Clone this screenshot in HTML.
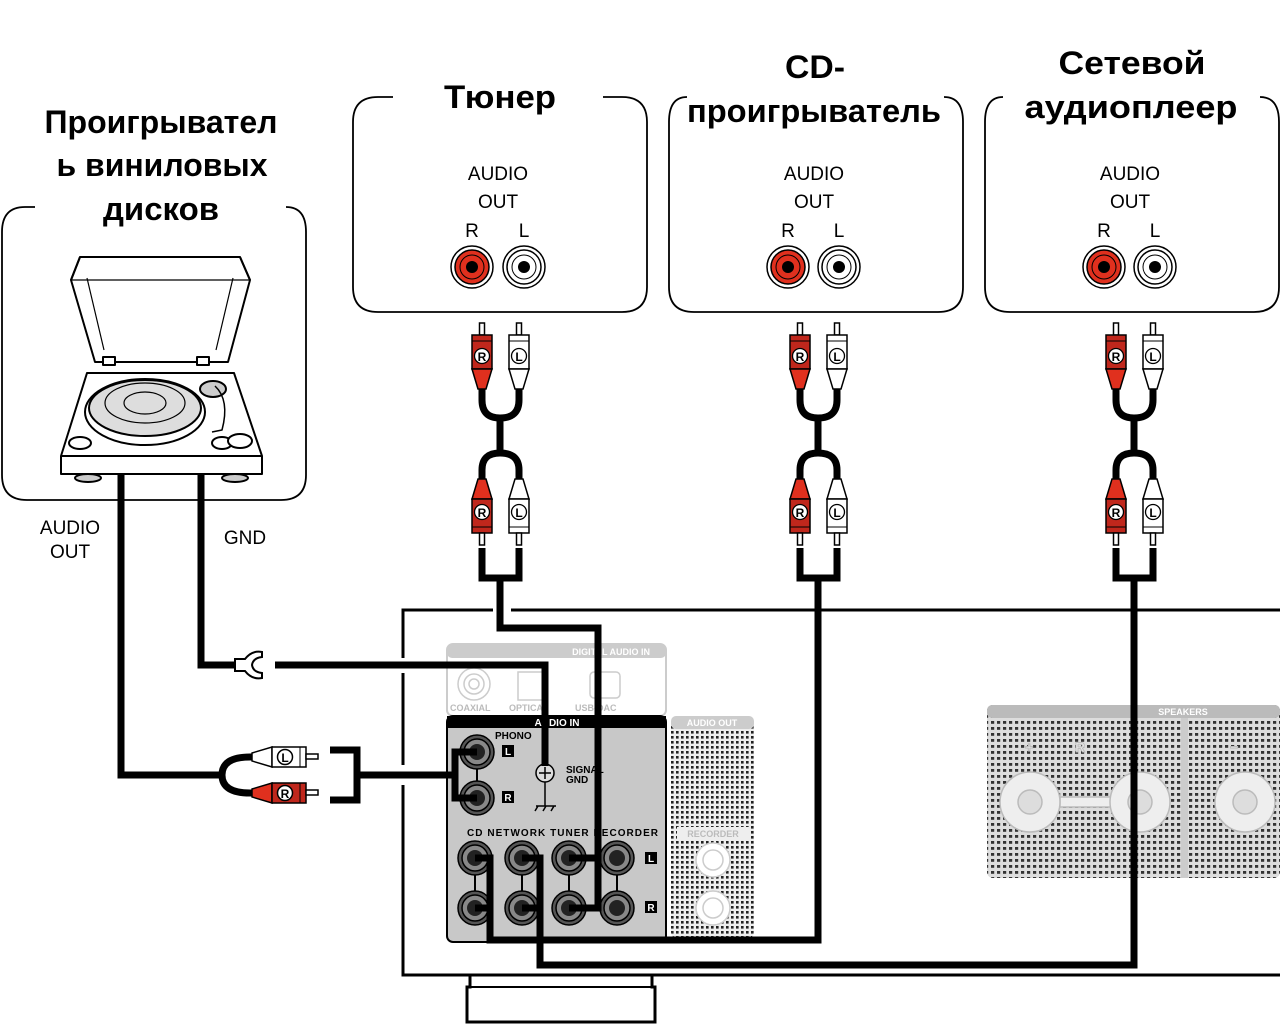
<!DOCTYPE html>
<html><head><meta charset="utf-8"><style>
html,body{margin:0;padding:0;background:#fff;}
svg{display:block;}
text{font-family:"Liberation Sans","DejaVu Sans",sans-serif;}
</style></head><body>
<svg width="1280" height="1033" viewBox="0 0 1280 1033" xmlns="http://www.w3.org/2000/svg">
<defs>
<pattern id="dots" width="5" height="5" patternUnits="userSpaceOnUse"><rect width="5" height="5" fill="#eee"/><rect x="1" y="1" width="2.6" height="2.6" fill="#222"/></pattern>
<pattern id="dots2" width="6" height="6" patternUnits="userSpaceOnUse"><rect width="6" height="6" fill="#ddd"/><rect x="1" y="1" width="3.2" height="2.8" fill="#333"/></pattern>
<g id="plugR">
 <rect x="-2.5" y="0" width="5" height="12" fill="#fff" stroke="#000" stroke-width="1.5"/>
 <rect x="-10" y="12" width="20" height="34" fill="#c0271c" stroke="#000" stroke-width="1.5"/>
 <line x1="-10" y1="18" x2="10" y2="18" stroke="#000" stroke-width="1"/>
 <path d="M-10 46 L-4 66 L4 66 L10 46Z" fill="#e0301e" stroke="#000" stroke-width="1.5"/>
 <circle cx="0" cy="33" r="7.5" fill="#fff" stroke="#000" stroke-width="1.3"/>
 <text x="0" y="38" font-size="12" font-weight="bold" text-anchor="middle">R</text>
</g>
<g id="plugL">
 <rect x="-2.5" y="0" width="5" height="12" fill="#fff" stroke="#000" stroke-width="1.5"/>
 <rect x="-10" y="12" width="20" height="34" fill="#fff" stroke="#000" stroke-width="1.5"/>
 <line x1="-10" y1="18" x2="10" y2="18" stroke="#000" stroke-width="1"/>
 <path d="M-10 46 L-4 66 L4 66 L10 46Z" fill="#fff" stroke="#000" stroke-width="1.5"/>
 <circle cx="0" cy="33" r="7.5" fill="#fff" stroke="#000" stroke-width="1.3"/>
 <text x="0" y="38" font-size="12" font-weight="bold" text-anchor="middle">L</text>
</g>
<g id="plugRd">
 <path d="M-4 479 L4 479 L10 499 L-10 499Z" fill="#e0301e" stroke="#000" stroke-width="1.5"/>
 <rect x="-10" y="499" width="20" height="34" fill="#c0271c" stroke="#000" stroke-width="1.5"/>
 <line x1="-10" y1="527" x2="10" y2="527" stroke="#000" stroke-width="1"/>
 <rect x="-2.5" y="533" width="5" height="12" fill="#fff" stroke="#000" stroke-width="1.5"/>
 <circle cx="0" cy="512" r="7.5" fill="#fff" stroke="#000" stroke-width="1.3"/>
 <text x="0" y="517" font-size="12" font-weight="bold" text-anchor="middle">R</text>
</g>
<g id="plugLd">
 <path d="M-4 479 L4 479 L10 499 L-10 499Z" fill="#fff" stroke="#000" stroke-width="1.5"/>
 <rect x="-10" y="499" width="20" height="34" fill="#fff" stroke="#000" stroke-width="1.5"/>
 <line x1="-10" y1="527" x2="10" y2="527" stroke="#000" stroke-width="1"/>
 <rect x="-2.5" y="533" width="5" height="12" fill="#fff" stroke="#000" stroke-width="1.5"/>
 <circle cx="0" cy="512" r="7.5" fill="#fff" stroke="#000" stroke-width="1.3"/>
 <text x="0" y="517" font-size="12" font-weight="bold" text-anchor="middle">L</text>
</g>
<g id="cable">
 <g fill="none" stroke="#000" stroke-width="7">
  <path d="M-18 388 V400 Q-18 418 0 418 Q19 418 19 400 V388"/>
  <path d="M0 418 V454"/>
  <path d="M-18 482 V470 Q-18 453 0 453 Q19 453 19 470 V482"/>
  <path d="M-18 548 V578 H19 V548"/>
 </g>
 <use href="#plugR" x="-18" y="323"/>
 <use href="#plugL" x="19" y="323"/>
 <use href="#plugRd" x="-18"/>
 <use href="#plugLd" x="19"/>
</g>
<g id="injack">
 <circle r="17" fill="#555" stroke="#000" stroke-width="1.5"/>
 <circle r="13" fill="#888" stroke="#000" stroke-width="1.5"/>
 <circle r="8" fill="#222"/>
</g>
</defs>

<!-- Titles -->
<g font-weight="bold" font-size="32" text-anchor="middle">
 <text x="161" y="133" textLength="233" lengthAdjust="spacingAndGlyphs">Проигрывател</text>
 <text x="162" y="176" textLength="211" lengthAdjust="spacingAndGlyphs">ь виниловых</text>
 <text x="161" y="220" textLength="116" lengthAdjust="spacingAndGlyphs">дисков</text>
 <text x="500" y="108" textLength="112" lengthAdjust="spacingAndGlyphs">Тюнер</text>
 <text x="815" y="78" textLength="60" lengthAdjust="spacingAndGlyphs">CD-</text>
 <text x="814" y="122" textLength="254" lengthAdjust="spacingAndGlyphs">проигрыватель</text>
 <text x="1132" y="74" textLength="147" lengthAdjust="spacingAndGlyphs">Сетевой</text>
 <text x="1131" y="118" textLength="213" lengthAdjust="spacingAndGlyphs">аудиоплеер</text>
</g>

<!-- Boxes -->
<g fill="none" stroke="#000" stroke-width="1.8">
 <path d="M35 207 H25 Q2 207 2 232 V475 Q2 500 27 500 H281 Q306 500 306 475 V232 Q306 207 286 207"/>
 <path d="M393 97 H378 Q353 97 353 122 V287 Q353 312 378 312 H622 Q647 312 647 287 V122 Q647 97 622 97 H603"/>
 <path d="M687 97 Q669 97 669 122 V287 Q669 312 694 312 H938 Q963 312 963 287 V122 Q963 97 944 97"/>
 <path d="M1003 97 Q985 97 985 122 V287 Q985 312 1010 312 H1254 Q1279 312 1279 287 V122 Q1279 97 1260 97"/>
</g>

<g font-size="19" text-anchor="middle">
 <text x="498" y="180">AUDIO</text><text x="498" y="208">OUT</text><text x="472" y="237">R</text><text x="524" y="237">L</text>
 <text x="814" y="180">AUDIO</text><text x="814" y="208">OUT</text><text x="788" y="237">R</text><text x="839" y="237">L</text>
 <text x="1130" y="180">AUDIO</text><text x="1130" y="208">OUT</text><text x="1104" y="237">R</text><text x="1155" y="237">L</text>
</g>
<g>
 <g transform="translate(472,267)"><circle r="21" fill="#fff" stroke="#000" stroke-width="1.5"/><circle r="17" fill="#e0301e" stroke="#000" stroke-width="1.5"/><circle r="12" fill="#e0301e" stroke="#000" stroke-width="1"/><circle r="6" fill="#000"/></g>
 <g transform="translate(524,267)"><circle r="21" fill="#fff" stroke="#000" stroke-width="1.5"/><circle r="17" fill="#fff" stroke="#000" stroke-width="1.5"/><circle r="12" fill="#fff" stroke="#000" stroke-width="1"/><circle r="6" fill="#000"/></g>
 <g transform="translate(788,267)"><circle r="21" fill="#fff" stroke="#000" stroke-width="1.5"/><circle r="17" fill="#e0301e" stroke="#000" stroke-width="1.5"/><circle r="12" fill="#e0301e" stroke="#000" stroke-width="1"/><circle r="6" fill="#000"/></g>
 <g transform="translate(839,267)"><circle r="21" fill="#fff" stroke="#000" stroke-width="1.5"/><circle r="17" fill="#fff" stroke="#000" stroke-width="1.5"/><circle r="12" fill="#fff" stroke="#000" stroke-width="1"/><circle r="6" fill="#000"/></g>
 <g transform="translate(1104,267)"><circle r="21" fill="#fff" stroke="#000" stroke-width="1.5"/><circle r="17" fill="#e0301e" stroke="#000" stroke-width="1.5"/><circle r="12" fill="#e0301e" stroke="#000" stroke-width="1"/><circle r="6" fill="#000"/></g>
 <g transform="translate(1155,267)"><circle r="21" fill="#fff" stroke="#000" stroke-width="1.5"/><circle r="17" fill="#fff" stroke="#000" stroke-width="1.5"/><circle r="12" fill="#fff" stroke="#000" stroke-width="1"/><circle r="6" fill="#000"/></g>
</g>

<!-- Turntable -->
<g stroke="#000" stroke-width="2" fill="#fff" stroke-linejoin="round">
 <path d="M80 257 H240 L250 280 L228 362 H95 L71 280Z"/>
 <path d="M80 257 L71 280 M240 257 L250 280"/>
 <path d="M71 280 H250 M87 278 L104 350 M233 278 L216 350" fill="none" stroke-width="1.2"/>
 <rect x="103" y="357" width="12" height="8"/><rect x="197" y="357" width="12" height="8"/>
 <ellipse cx="88" cy="478" rx="13" ry="4" fill="#ccc"/><ellipse cx="235" cy="478" rx="13" ry="4" fill="#ccc"/>
 <path d="M87 373 H234 L262 456 V474 H61 V456Z"/>
 <path d="M61 456 H262" fill="none"/>
 <ellipse cx="145" cy="412" rx="60" ry="33" fill="#fff"/>
 <ellipse cx="145" cy="408" rx="56" ry="28" fill="#ddd"/>
 <ellipse cx="145" cy="403" rx="40" ry="20" fill="#ddd" stroke-width="1.2"/>
 <ellipse cx="145" cy="403" rx="21" ry="11" fill="#ddd" stroke-width="1.2"/>
 <ellipse cx="80" cy="443" rx="11" ry="6"/><ellipse cx="222" cy="443" rx="10" ry="6"/><ellipse cx="240" cy="441" rx="12" ry="7"/>
 <ellipse cx="213" cy="389" rx="13" ry="8" fill="#ccc"/>
 <path d="M215 386 Q230 400 222 430 L212 432" fill="none" stroke-width="1.5"/>
</g>

<!-- Amplifier outline -->
<g fill="none" stroke="#000" stroke-width="3">
 <path d="M493 610 H403 V658 M403 673 V765 M403 785 V975 H1280"/>
 <path d="M511 610 H1280"/>
 <path d="M470 975 V987 H467 V1022 H655 V987 H652 V975"/>
 <path d="M470 987 H652" stroke-width="2"/>
</g>

<!-- Digital audio in panel -->
<rect x="447" y="644" width="219" height="72" rx="6" fill="#fff" stroke="#ccc" stroke-width="2"/>
<rect x="447" y="644" width="219" height="14" rx="5" fill="#ccc"/>
<text x="650" y="655" font-size="9" font-weight="bold" fill="#fff" text-anchor="end">DIGITAL AUDIO IN</text>
<g fill="none" stroke="#ccc" stroke-width="1.5">
 <circle cx="474" cy="684" r="16"/><circle cx="474" cy="684" r="10"/><circle cx="474" cy="684" r="5"/>
 <rect x="518" y="672" width="28" height="28"/><rect x="590" y="672" width="30" height="26" rx="4"/>
</g>
<g font-size="9" fill="#bbb" font-weight="bold"><text x="450" y="711">COAXIAL</text><text x="509" y="711">OPTICAL</text><text x="575" y="711">USB-DAC</text></g>

<!-- Audio In panel -->
<rect x="447" y="716" width="219" height="226" rx="6" fill="#c8c8c8" stroke="#000" stroke-width="2"/>
<rect x="447" y="716" width="219" height="12" fill="#000"/>
<text x="557" y="726" font-size="10" font-weight="bold" fill="#fff" text-anchor="middle">AUDIO IN</text>
<g font-size="10" font-weight="bold">
 <text x="495" y="739">PHONO</text>
 <text x="566" y="773">SIGNAL</text><text x="566" y="783">GND</text>
 <text x="467" y="836" textLength="191" lengthAdjust="spacing">CD  NETWORK  TUNER  RECORDER</text>
</g>
<g font-size="10" font-weight="bold">
 <rect x="502" y="745" width="12" height="12" fill="#000"/><text x="508" y="755" fill="#fff" text-anchor="middle">L</text>
 <rect x="502" y="791" width="12" height="12" fill="#000"/><text x="508" y="801" fill="#fff" text-anchor="middle">R</text>
 <rect x="645" y="852" width="12" height="12" fill="#000"/><text x="651" y="862" fill="#fff" text-anchor="middle">L</text>
 <rect x="645" y="901" width="12" height="12" fill="#000"/><text x="651" y="911" fill="#fff" text-anchor="middle">R</text>
</g>
<g stroke="#000" stroke-width="2">
 <line x1="477" y1="752" x2="477" y2="798"/>
 <line x1="475" y1="858" x2="475" y2="908"/><line x1="522" y1="858" x2="522" y2="908"/>
 <line x1="569" y1="858" x2="569" y2="908"/><line x1="617" y1="858" x2="617" y2="908"/>
</g>
<use href="#injack" x="477" y="752"/><use href="#injack" x="477" y="798"/>
<use href="#injack" x="475" y="858"/><use href="#injack" x="475" y="908"/>
<use href="#injack" x="522" y="858"/><use href="#injack" x="522" y="908"/>
<use href="#injack" x="569" y="858"/><use href="#injack" x="569" y="908"/>
<use href="#injack" x="617" y="858"/><use href="#injack" x="617" y="908"/>
<g fill="none" stroke="#000" stroke-width="1.5">
 <circle cx="545" cy="773" r="9" fill="#ddd"/><path d="M545 767 V779 M539 773 H551"/>
 <path d="M545 782 V806 M536 806 H556 M538 806 l-3 5 M546 806 l-3 5 M554 806 l-3 5"/>
</g>

<!-- Audio out dotted -->
<rect x="671" y="716" width="83" height="222" rx="6" fill="url(#dots)"/>
<rect x="671" y="716" width="83" height="13" rx="5" fill="#ccc"/>
<text x="712" y="726" font-size="9" font-weight="bold" fill="#fff" text-anchor="middle">AUDIO OUT</text>
<rect x="677" y="827" width="72" height="12" fill="#eee"/>
<text x="713" y="837" font-size="9" fill="#bbb" text-anchor="middle" font-weight="bold">RECORDER</text>
<g fill="#fff" stroke="#ccc" stroke-width="1.5"><circle cx="713" cy="860" r="17"/><circle cx="713" cy="860" r="10"/><circle cx="713" cy="908" r="17"/><circle cx="713" cy="908" r="10"/></g>

<!-- Speakers -->
<rect x="987" y="705" width="293" height="173" rx="6" fill="url(#dots2)"/>
<rect x="987" y="705" width="293" height="13" rx="5" fill="#bbb"/>
<rect x="1181" y="718" width="7" height="160" fill="#ccc"/>
<text x="1183" y="715" font-size="9" fill="#fff" text-anchor="middle" font-weight="bold">SPEAKERS</text>
<g fill="#eee" stroke="#bbb" stroke-width="1.5">
 <rect x="1060" y="797" width="60" height="10"/>
 <circle cx="1030" cy="802" r="30"/><circle cx="1030" cy="802" r="12" fill="#ddd"/>
 <circle cx="1140" cy="802" r="30"/><circle cx="1140" cy="802" r="12" fill="#ddd"/>
 <circle cx="1245" cy="802" r="30"/><circle cx="1245" cy="802" r="12" fill="#ddd"/>
</g>
<g font-size="14" font-weight="bold" fill="#eee" stroke="#bbb" stroke-width="1"><text x="1025" y="752">+</text><text x="1075" y="752">R</text><text x="1230" y="752">−</text></g>

<!-- Device cables -->
<use href="#cable" x="500"/>
<use href="#cable" x="818"/>
<use href="#cable" x="1134"/>

<!-- Wires to amplifier -->
<g fill="none" stroke="#000" stroke-width="7" stroke-linejoin="miter">
 <path d="M500 578 V628 H598 V908 H569"/>
 <path d="M598 858 H569"/>
 <path d="M818 578 V940 H490 V858 H475"/>
 <path d="M490 908 H475"/>
 <path d="M1134 578 V965 H540 V858 H522"/>
 <path d="M540 908 H522"/>
 <path d="M201 475 V665 H238"/>
 <path d="M275 665 H545 V766"/>
 <path d="M121 475 V775 H222"/>
 <path d="M330 750 H357 V800 H330"/>
 <path d="M357 775 H455"/>
 <path d="M477 752 H455 V798 H477"/>
</g>
<path d="M235 659 H245 Q252 650 262 652 L262 657 Q253 658 252 665 Q253 672 262 673 L262 678 Q252 680 245 671 H235Z" fill="#fff" stroke="#000" stroke-width="2"/>
<path d="M222 775 Q222 757 250 757 H262 M222 775 Q222 793 250 793 H262" fill="none" stroke="#000" stroke-width="7"/>
<!-- horizontal phono plugs (pointing right) -->
<g stroke="#000" stroke-width="1.5">
 <path d="M252 753 L272 747 V767 L252 761Z" fill="#fff"/>
 <rect x="272" y="747" width="34" height="20" fill="#fff"/>
 <line x1="300" y1="747" x2="300" y2="767" stroke-width="1"/>
 <rect x="306" y="754" width="12" height="5" fill="#fff"/>
 <circle cx="285" cy="757" r="7.5" fill="#fff"/>
 <path d="M252 789 L272 783 V803 L252 797Z" fill="#e0301e"/>
 <rect x="272" y="783" width="34" height="20" fill="#c0271c"/>
 <line x1="300" y1="783" x2="300" y2="803" stroke-width="1"/>
 <rect x="306" y="790" width="12" height="5" fill="#fff"/>
 <circle cx="285" cy="793" r="7.5" fill="#fff"/>
</g>
<g font-size="12" font-weight="bold" text-anchor="middle"><text x="285" y="762">L</text><text x="285" y="798">R</text></g>

<g font-size="19" text-anchor="middle">
 <text x="70" y="534">AUDIO</text><text x="70" y="558">OUT</text>
 <text x="245" y="544">GND</text>
</g>
</svg>
</body></html>
